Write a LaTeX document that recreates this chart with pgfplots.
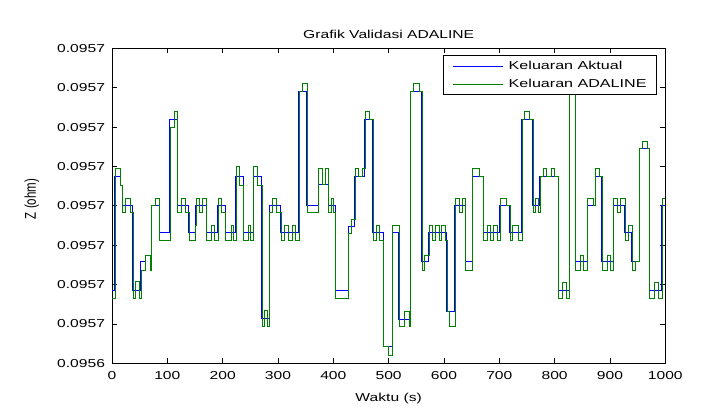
\documentclass[border=0pt]{standalone}
\usepackage{fontspec}
\setmainfont{Liberation Sans}
\usepackage{graphicx}
\usepackage{pgfplots}
\usepackage{pgfplotstable}
\pgfplotsset{compat=1.18}

% text is set slightly widened, as in the original figure
\newcommand{\wide}[1]{\scalebox{1.36}[1]{#1}}
\newcommand{\lwide}[1]{\scalebox{1.40}[1]{#1}}
\newcommand{\tall}[1]{\scalebox{1}[1.36]{#1}}

% Z is stored as a level on the tick grid (0 = 0.0956, each step one tick)
\pgfplotstableread{
t z
0 1.86
4 4.75
16 4.53
19 4.0
37 1.86
51 2.58
61 2.75
71 4.0
85 3.32
104 6.2
119 4.0
139 3.32
151 4.0
171 3.32
191 4.0
205 3.32
224 4.75
237 3.32
255 4.75
271 1.14
284 4.0
305 3.32
337 6.9
352 4.0
373 4.55
391 4.0
403 1.86
427 3.47
439 4.75
457 6.2
471 3.32
490 0.42
506 3.32
518 1.12
539 6.9
560 2.58
572 3.32
605 1.32
619 4.0
638 2.58
651 4.75
671 3.32
701 4.0
719 3.32
740 6.2
760 4.0
773 4.75
806 1.86
826 7.5
837 2.58
859 4.0
873 4.75
885 2.58
906 4.0
927 3.32
939 2.58
953 5.47
971 1.86
993 4.0
1000 4.0
}\aktual

\pgfplotstableread{
t z
0 1.65
6 4.96
14.5 4.53
19 3.83
24 4.2
32.5 3.83
39 1.65
43 2.07
50 1.65
54 2.37
60 2.75
69 2.37
72 4.0
78 4.2
86 3.12
106 6.0
112 6.4
119 3.83
126 4.2
133 3.83
140 3.12
150 3.5
152 4.2
158 3.83
164 4.2
171 3.12
180 3.5
186 3.12
192 4.2
198 3.83
205 3.12
215 3.5
219 3.12
225 5.0
231 4.53
238 3.12
246 3.5
251 3.12
256 5.0
262 4.53
272 0.93
275 1.35
281 0.93
285 3.83
290 4.2
298 3.83
306 3.12
312 3.5
318 3.12
326 3.5
332 3.12
338 6.9
344 7.1
353 3.83
374 4.96
380 4.55
385 4.96
392 3.83
397 4.2
401 3.83
404 1.65
428 3.3
432 3.65
440 4.96
446 4.75
452 4.96
458 6.4
466 6.2
472 3.12
478 3.5
484 3.12
491 0.42
499 0.21
507 3.5
519 0.93
529 1.32
537 0.93
540 6.9
545 7.1
555 6.9
561 2.37
565 2.75
573 3.5
580 3.12
584 3.5
592 3.12
596 3.5
603 3.12
606 1.32
610 0.93
620 4.2
628 3.83
634 4.2
639 2.37
652 4.96
664 4.75
672 3.12
678 3.5
684 3.12
690 3.5
696 3.12
702 4.2
712 4.0
720 3.12
724 3.5
734 3.12
741 6.2
745 6.4
755 6.2
761 3.83
765 4.2
771 3.83
774 4.75
780 4.96
786 4.75
794 4.96
800 4.75
807 1.65
815 2.05
822 1.65
827 7.7
838 2.37
846 2.75
852 2.37
860 4.2
870 4.0
874 4.96
881 4.75
886 2.37
895 2.75
901 2.37
907 4.2
913 3.83
919 4.2
928 3.12
934 3.5
940 2.37
946 2.58
954 5.47
959 5.65
968 5.47
972 1.65
980 2.05
988 1.65
994 4.2
1000 4.2
}\adaline

\definecolor{mblue}{rgb}{0,0,1}
\definecolor{mgreen}{rgb}{0,0.5,0}

\begin{document}
\fontsize{11.5}{13}\selectfont
\begin{tikzpicture}
\useasboundingbox (-112pt,-47.7pt) rectangle (596pt,363.3pt);
\begin{axis}[
  at={(0,0)}, anchor=south west,
  scale only axis,
  width=553.3pt, height=314.8pt,
  xmin=0, xmax=1000, ymin=0, ymax=8,
  xtick={0,100,200,300,400,500,600,700,800,900,1000},
  xticklabels={\wide{0},\wide{100},\wide{200},\wide{300},\wide{400},\wide{500},\wide{600},\wide{700},\wide{800},\wide{900},\wide{1000}},
  ytick={0,1,2,3,4,5,6,7,8},
  yticklabels={\wide{0.0956},\wide{0.0957},\wide{0.0957},\wide{0.0957},\wide{0.0957},\wide{0.0957},\wide{0.0957},\wide{0.0957},\wide{0.0957}},
  tick align=inside, tick pos=both,
  xticklabel pos=lower, yticklabel pos=left,
  major tick length=5pt,
  every tick/.style={black, line width=0.8pt},
  axis line style={black, line width=0.8pt},
  xticklabel style={anchor=base, yshift=-16.5pt},
  yticklabel style={anchor=east, xshift=-3pt},
  title={\wide{Grafik Validasi ADALINE}},
  title style={at={(axis description cs:0.5,1)}, anchor=base, yshift=3.5pt},
  xlabel={\wide{Waktu (s)}},
  xlabel style={at={(axis description cs:0.5,0)}, anchor=base, yshift=-38.7pt},
  ylabel={\tall{Z (ohm)}},
  ylabel style={at={(axis description cs:-0.145,0.522)}, anchor=center},
  legend cell align=left,
  legend image code/.code={\draw[#1] (0pt,0pt) -- (50pt,0pt);},
  legend style={at={(axis description cs:0.985,0.979)}, anchor=north east,
    draw=black, line width=0.9pt, fill=white,
    inner xsep=8.5pt, inner ysep=4pt, row sep=5pt,
    nodes={inner sep=1.5pt}, column sep=4pt},
]
\addplot[const plot, mblue, line width=0.9pt] table[x=t, y=z] {\aktual};
\addlegendentry{\lwide{Keluaran Aktual}}
\addplot[const plot, mgreen, line width=0.9pt] table[x=t, y=z] {\adaline};
\addlegendentry{\lwide{Keluaran ADALINE}}
\end{axis}
\end{tikzpicture}
\end{document}
